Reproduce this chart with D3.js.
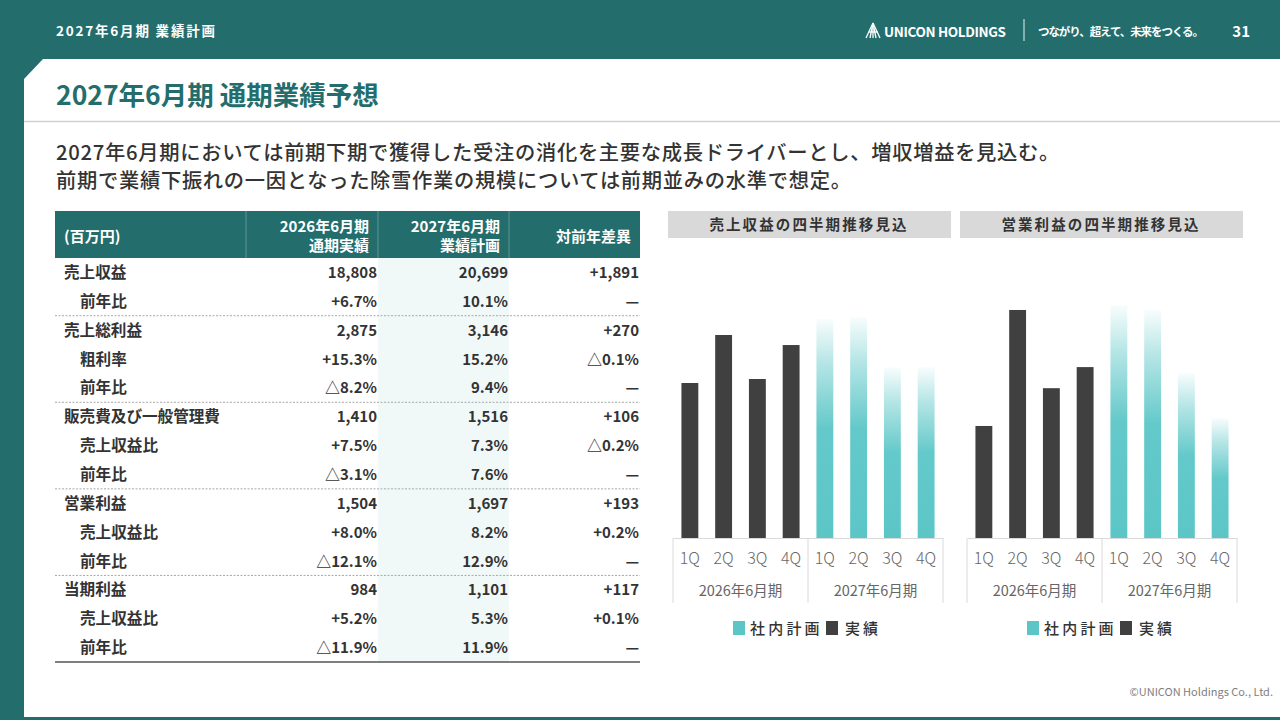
<!DOCTYPE html>
<html><head><meta charset="utf-8">
<script src="https://cdn.jsdelivr.net/npm/d3@7/dist/d3.min.js"></script>
<style>
html,body{margin:0;padding:0;background:#fff;}
svg{display:block;}
text{font-family:"Noto Sans CJK JP","Noto Sans",sans-serif;}
</style></head>
<body>
<svg id="c" width="1280" height="720"></svg>
<script>
// ---------- data ----------
const headerTitle = "2027年6月期 業績計画";
const pageTitle = "2027年6月期 通期業績予想";
const bodyLines = [
  "2027年6月期においては前期下期で獲得した受注の消化を主要な成長ドライバーとし、増収増益を見込む。",
  "前期で業績下振れの一因となった除雪作業の規模については前期並みの水準で想定。"
];
const tableHeaders = [["(百万円)"], ["2026年6月期","通期実績"], ["2027年6月期","業績計画"], ["対前年差異"]];
const rowLabels = ["売上収益","前年比","売上総利益","粗利率","前年比","販売費及び一般管理費","売上収益比","前年比","営業利益","売上収益比","前年比","当期利益","売上収益比","前年比"];
const rowIsSub  = [0,1,0,1,1,0,1,1,0,1,1,0,1,1];
const groupEnds = [1,4,7,10];
const colActual2026 = ["18,808","+6.7%","2,875","+15.3%","△8.2%","1,410","+7.5%","△3.1%","1,504","+8.0%","△12.1%","984","+5.2%","△11.9%"];
const colPlan2027   = ["20,699","10.1%","3,146","15.2%","9.4%","1,516","7.3%","7.6%","1,697","8.2%","12.9%","1,101","5.3%","11.9%"];
const colDiff       = ["+1,891","—","+270","△0.1%","—","+106","△0.2%","—","+193","+0.2%","—","+117","+0.1%","—"];

const quarters = ["1Q","2Q","3Q","4Q"];
const fiscalYears = ["2026年6月期","2027年6月期"];
const revenueActual = [4106, 5378, 4212, 5112];   // 2026年6月期 実績
const revenuePlan   = [5800, 5850, 4520, 4529];   // 2027年6月期 社内計画
const opActual      = [255, 519, 341, 389];
const opPlan        = [530, 519, 375, 273];
const chartTitles = ["売上収益の四半期推移見込","営業利益の四半期推移見込"];
const legendLabels = ["社内計画","実績"];

// ---------- colors ----------
const TEAL = "#236e6d", PLAN = "#5cc6c7", ACT = "#404040", TXT = "#333333";

const svg = d3.select("#c");

// background frame
svg.append("rect").attr("width",1280).attr("height",720).attr("fill",TEAL);
svg.append("path").attr("d","M24,79 L43,59 L1280,59 L1280,717 L24,717 Z").attr("fill","#fff");

// header
svg.append("text").attr("x",56).attr("y",36).attr("fill","#fff").attr("font-size",13.5)
  .attr("font-weight",700).attr("letter-spacing",1.8).text(headerTitle);
// logo icon
const logo = svg.append("g").attr("transform","translate(866,23)").attr("stroke","#fff").attr("stroke-width",1.3).attr("fill","none");
[[7,0,0,15],[7,0,4,15],[7,0,7,15],[7,0,10,15],[7,0,14,15]].forEach(l=>logo.append("line").attr("x1",l[0]).attr("y1",l[1]).attr("x2",l[2]).attr("y2",l[3]));
logo.append("line").attr("x1",3).attr("y1",9).attr("x2",12).attr("y2",9);
svg.append("text").attr("x",884).attr("y",37).attr("fill","#fff").attr("font-size",13.5)
  .attr("font-family","Lato, sans-serif").attr("font-weight",700).attr("letter-spacing",2).attr("textLength",124).text("UNICON HOLDINGS");
svg.append("line").attr("x1",1024).attr("x2",1024).attr("y1",19).attr("y2",41).attr("stroke","#c8dcdc").attr("stroke-width",1.2);
svg.append("text").attr("x",1038).attr("y",36).attr("fill","#fff").attr("font-size",11.5)
  .attr("font-weight",700).attr("textLength",166).text("つながり、超えて、未来をつくる。");
svg.append("text").attr("x",1250).attr("y",37).attr("text-anchor","end").attr("fill","#fff").attr("font-size",15)
  .attr("font-weight",700).text("31");

// title
svg.append("text").attr("x",56).attr("y",105).attr("fill",TEAL).attr("font-size",26.5).attr("font-weight",700).text(pageTitle);
svg.append("line").attr("x1",24).attr("x2",1280).attr("y1",121.5).attr("y2",121.5).attr("stroke","#d0d0d0").attr("stroke-width",1.5);

// body
bodyLines.forEach((t,i)=>{
  svg.append("text").attr("x",56).attr("y",160+i*28).attr("fill",TXT).attr("font-size",20.3)
    .attr("font-weight",500).attr("letter-spacing",0.7).text(t);
});

// ---------- table ----------
const colEdges = [55,246,378,509,640];
const headTop = 211, headBot = 258, rowH = (662-258)/rowLabels.length;
svg.append("rect").attr("x",colEdges[2]).attr("y",headBot).attr("width",colEdges[3]-colEdges[2]).attr("height",662-headBot).attr("fill","#f1f9f8");
svg.append("rect").attr("x",55).attr("y",headTop).attr("width",585).attr("height",headBot-headTop).attr("fill",TEAL);
[1,2,3].forEach(i=>svg.append("line").attr("x1",colEdges[i]).attr("x2",colEdges[i]).attr("y1",headTop).attr("y2",headBot).attr("stroke","#5f9494").attr("stroke-width",1));
tableHeaders.forEach((h,i)=>{
  const t = svg.append("text").attr("fill","#fff").attr("font-size",15).attr("font-weight",700);
  if(i===0){ t.attr("x",64).attr("y",242).text(h[0]); }
  else {
    t.attr("text-anchor","end");
    const x = colEdges[i+1]-9;
    if(h.length===1){ t.attr("x",x).attr("y",242).text(h[0]); }
    else { h.forEach((s,j)=>t.append("tspan").attr("x",x).attr("y",232+j*19).text(s)); }
  }
});
const rowY = i => headBot + rowH*i + rowH/2;
rowLabels.forEach((lab,i)=>{
  const y = rowY(i)+5.5;
  svg.append("text").attr("x",rowIsSub[i]?80:64).attr("y",y).attr("fill",TXT).attr("font-size",15.6).attr("font-weight",700).text(lab);
  [colActual2026,colPlan2027,colDiff].forEach((col,k)=>{
    svg.append("text").attr("x",colEdges[k+2]-1).attr("y",y).attr("text-anchor","end").attr("fill",TXT)
      .attr("font-size",15).attr("font-weight",700).text(col[i]);
  });
});
groupEnds.forEach(g=>{
  const y = headBot + rowH*(g+1);
  svg.append("line").attr("x1",55).attr("x2",640).attr("y1",y).attr("y2",y).attr("stroke","#a8a8a8").attr("stroke-width",1).attr("stroke-dasharray","2,1.5");
});
svg.append("line").attr("x1",55).attr("x2",640).attr("y1",662).attr("y2",662).attr("stroke","#555").attr("stroke-width",1.5);

// ---------- charts ----------
const defs = svg.append("defs");
const grad = defs.append("linearGradient").attr("id","planGrad").attr("x1",0).attr("y1",0).attr("x2",0).attr("y2",1);
grad.append("stop").attr("offset",0).attr("stop-color",PLAN).attr("stop-opacity",0.04);
grad.append("stop").attr("offset",0.2).attr("stop-color",PLAN).attr("stop-opacity",0.45);
grad.append("stop").attr("offset",0.5).attr("stop-color",PLAN).attr("stop-opacity",0.95);
grad.append("stop").attr("offset",1).attr("stop-color",PLAN).attr("stop-opacity",1);

function drawChart(opts){
  const g = svg.append("g");
  g.append("rect").attr("x",opts.boxX).attr("y",211).attr("width",283).attr("height",27).attr("fill","#d9d9d9");
  g.append("text").attr("x",opts.boxX+141).attr("y",230).attr("text-anchor","middle").attr("fill",TXT)
    .attr("font-size",14.5).attr("font-weight",700).attr("letter-spacing",2.1).text(opts.title);
  const keys = [];
  fiscalYears.forEach((fy,yi)=>quarters.forEach(q=>keys.push(yi+"-"+q)));
  const x = d3.scaleBand().domain(keys).range([opts.x0, opts.x0+270]).paddingInner(0.5).paddingOuter(0.25);
  const y = d3.scaleLinear().domain([0,opts.yMax]).range([538,270]);
  const data = [];
  opts.actual.forEach((v,i)=>data.push({k:"0-"+quarters[i], v, plan:false}));
  opts.plan.forEach((v,i)=>data.push({k:"1-"+quarters[i], v, plan:true}));
  g.selectAll("rect.bar").data(data).join("rect").attr("class","bar")
    .attr("x",d=>x(d.k)).attr("width",x.bandwidth())
    .attr("y",d=>y(d.v)).attr("height",d=>y(0)-y(d.v))
    .attr("fill",d=>d.plan?"url(#planGrad)":ACT);
  // axis
  const ax = d3.axisBottom(x).tickSize(0).tickPadding(12).tickFormat(k=>k.split("-")[1]);
  const axg = g.append("g").attr("transform","translate(0,538)").call(ax);
  axg.select(".domain").attr("stroke","#dadada");
  axg.selectAll("text").attr("font-family","Lato, 'Noto Sans', sans-serif").attr("font-size",16)
    .attr("font-weight",300).attr("fill","#666").attr("dy","0.9em");
  [opts.x0, opts.x0+135, opts.x0+270].forEach(xx=>g.append("line").attr("x1",xx).attr("x2",xx).attr("y1",538).attr("y2",603).attr("stroke","#dadada"));
  fiscalYears.forEach((fy,i)=>g.append("text").attr("x",opts.x0+67.5+135*i).attr("y",596).attr("text-anchor","middle")
    .attr("fill","#666").attr("font-size",14.5).attr("font-weight",400).text(fy));
  // legend
  const lx = opts.x0+60;
  g.append("rect").attr("x",lx).attr("y",621).attr("width",12).attr("height",14).attr("fill",PLAN);
  g.append("text").attr("x",lx+17).attr("y",634).attr("fill",TXT).attr("font-size",15).attr("font-weight",500).attr("letter-spacing",3.2).text(legendLabels[0]);
  g.append("rect").attr("x",lx+93).attr("y",621).attr("width",12).attr("height",14).attr("fill",ACT);
  g.append("text").attr("x",lx+112).attr("y",634).attr("fill",TXT).attr("font-size",15).attr("font-weight",500).attr("letter-spacing",3).text(legendLabels[1]);
}
drawChart({boxX:668, x0:673, title:chartTitles[0], actual:revenueActual, plan:revenuePlan, yMax:7100});
drawChart({boxX:960, x0:967, title:chartTitles[1], actual:opActual, plan:opPlan, yMax:610});

// footer
svg.append("text").attr("x",1273).attr("y",696).attr("text-anchor","end").attr("fill","#808080")
  .attr("font-size",11).attr("font-family","Lato, 'Noto Sans', sans-serif").text("©UNICON Holdings Co., Ltd.");
</script>
</body></html>
